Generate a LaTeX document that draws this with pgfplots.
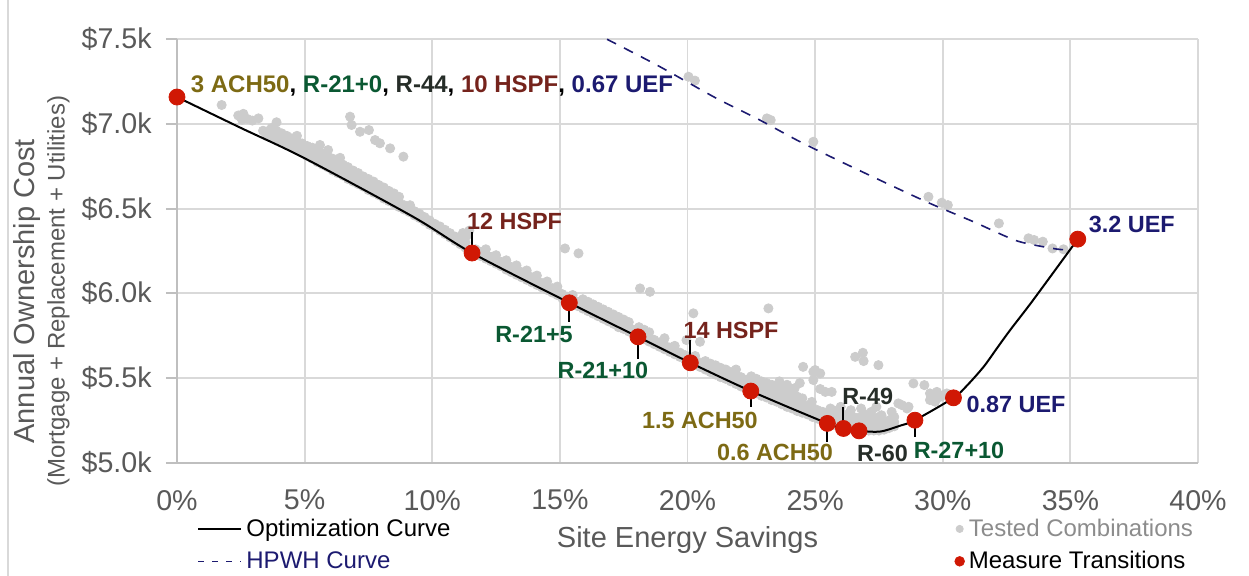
\documentclass[border=0pt]{standalone}
\usepackage{pgfplots}
\pgfplotsset{compat=1.18}
\usepackage{fontspec}
\setmainfont{Liberation Sans}
\definecolor{ptgray}{RGB}{204,204,204}
\definecolor{ptred}{RGB}{208,24,4}
\definecolor{colUEF}{RGB}{28,26,112}
\definecolor{colACH}{RGB}{125,106,20}
\definecolor{colR}{RGB}{10,88,50}
\definecolor{colRd}{RGB}{38,45,40}
\definecolor{colHSPF}{RGB}{117,35,28}
\definecolor{gridgray}{RGB}{217,217,217}
\definecolor{txtgray}{RGB}{89,89,89}
\definecolor{axgray}{RGB}{191,191,191}
\definecolor{leggray}{RGB}{140,140,140}
\newcommand{\lblfont}{\bfseries\fontsize{11.7}{14}\selectfont}

\pgfplotstableread{
x y
1.75 7.112
2.40 7.050
2.50 7.040
2.60 7.060
2.75 7.030
2.95 7.020
3.19 7.033
2.55 7.025
3.37 6.960
3.90 7.010
3.5 6.930
3.5 6.955
3.7 6.920
3.7 6.950
3.7 6.975
3.9 6.905
3.9 6.930
3.9 6.960
4.1 6.890
4.1 6.915
4.1 6.945
4.3 6.875
4.3 6.900
4.3 6.930
4.5 6.860
4.5 6.885
4.5 6.915
4.7 6.845
4.7 6.870
4.7 6.900
4.7 6.930
4.9 6.830
4.9 6.855
4.9 6.885
5.1 6.810
5.1 6.840
5.1 6.870
5.3 6.795
5.3 6.825
5.3 6.860
5.5 6.775
5.5 6.810
5.5 6.845
5.6 6.876
5.7 6.760
5.7 6.790
5.7 6.825
5.9 6.745
5.9 6.775
5.9 6.810
5.92 6.846
6.1 6.725
6.1 6.760
6.1 6.795
6.3 6.710
6.3 6.745
6.3 6.780
6.39 6.800
6.5 6.695
6.5 6.725
6.5 6.760
6.7 6.675
6.7 6.710
6.7 6.745
6.9 6.660
6.9 6.690
6.9 6.725
7.1 6.645
7.1 6.675
7.1 6.710
7.3 6.630
7.3 6.660
7.3 6.690
7.5 6.610
7.5 6.645
7.5 6.675
7.7 6.595
7.7 6.625
7.7 6.660
7.9 6.580
7.9 6.610
7.9 6.640
8.1 6.560
8.1 6.590
8.1 6.625
8.3 6.545
8.3 6.575
8.3 6.605
8.5 6.530
8.5 6.555
8.5 6.590
8.7 6.510
8.7 6.540
8.7 6.570
8.9 6.495
8.9 6.520
9.13 6.520
9.1 6.480
9.1 6.505
9.3 6.460
9.3 6.485
9.5 6.445
9.5 6.470
9.7 6.425
9.7 6.450
9.9 6.405
9.9 6.430
10.1 6.390
10.1 6.410
10.3 6.370
10.3 6.395
10.5 6.350
10.5 6.375
10.7 6.330
10.7 6.355
10.9 6.310
10.9 6.335
11.1 6.290
11.1 6.315
11.2 6.356
11.3 6.270
11.3 6.300
11.35 6.340
11.45 6.370
6.78 7.043
6.84 6.994
7.17 6.954
7.52 6.964
7.76 6.905
7.95 6.886
8.35 6.856
8.87 6.807
11.7 6.235
11.7 6.260
11.9 6.220
11.9 6.245
12.1 6.205
12.1 6.230
12.1 6.260
12.3 6.190
12.3 6.215
12.5 6.175
12.5 6.200
12.5 6.225
12.7 6.160
12.7 6.185
12.9 6.140
12.9 6.170
12.9 6.195
13.1 6.125
13.1 6.155
13.3 6.110
13.3 6.140
13.3 6.165
13.5 6.095
13.5 6.125
13.7 6.080
13.7 6.110
13.7 6.135
13.9 6.065
13.9 6.095
14.1 6.050
14.1 6.080
14.1 6.105
14.3 6.035
14.3 6.060
14.5 6.020
14.5 6.045
14.5 6.070
14.7 6.005
14.7 6.030
14.9 5.990
14.9 6.015
14.9 6.040
15.1 5.970
15.1 5.995
15.3 5.955
15.3 5.980
15.5 5.940
15.5 5.965
15.5 5.990
15.7 5.925
15.7 5.950
15.9 5.910
15.9 5.935
15.9 5.965
16.1 5.895
16.1 5.920
16.1 5.950
16.3 5.880
16.3 5.905
16.3 5.935
16.5 5.865
16.5 5.890
16.5 5.920
16.7 5.850
16.7 5.875
16.7 5.905
16.9 5.835
16.9 5.860
16.9 5.890
17.1 5.820
17.1 5.845
17.1 5.875
17.3 5.800
17.3 5.830
17.3 5.860
17.5 5.790
17.5 5.815
17.5 5.845
17.7 5.775
17.7 5.800
17.7 5.830
17.9 5.760
17.9 5.785
18.1 5.745
18.1 5.770
18.1 5.800
18.3 5.730
18.3 5.755
18.3 5.785
18.5 5.715
18.5 5.740
18.5 5.770
18.7 5.700
18.7 5.725
18.9 5.685
18.9 5.710
19.1 5.670
19.1 5.695
19.1 5.735
19.3 5.655
19.3 5.680
19.5 5.640
19.5 5.665
19.5 5.690
19.7 5.625
19.7 5.650
19.9 5.610
19.9 5.635
19.96 5.724
15.20 6.265
15.73 6.236
18.14 6.029
18.53 6.009
20.23 5.882
23.17 5.911
20.49 5.714
20.1 5.595
20.1 5.620
20.3 5.580
20.3 5.605
20.3 5.630
20.5 5.565
20.5 5.590
20.7 5.550
20.7 5.575
20.7 5.600
20.9 5.535
20.9 5.560
20.9 5.585
21.1 5.520
21.1 5.545
21.1 5.575
21.3 5.505
21.3 5.530
21.3 5.560
21.5 5.495
21.5 5.520
21.5 5.550
21.7 5.480
21.7 5.505
21.7 5.535
21.9 5.465
21.9 5.490
21.9 5.520
21.9 5.550
22.1 5.450
22.1 5.475
22.1 5.505
22.3 5.435
22.3 5.460
22.3 5.490
22.5 5.425
22.5 5.450
22.5 5.475
22.5 5.510
22.7 5.410
22.7 5.435
22.7 5.465
22.7 5.495
22.9 5.395
22.9 5.420
22.9 5.450
22.9 5.480
23.1 5.385
23.1 5.410
23.1 5.440
23.1 5.470
23.3 5.370
23.3 5.395
23.3 5.425
23.3 5.460
23.5 5.360
23.5 5.385
23.5 5.410
23.5 5.445
23.6 5.480
23.7 5.345
23.7 5.370
23.7 5.400
23.7 5.440
23.9 5.330
23.9 5.355
23.9 5.385
23.9 5.420
23.9 5.460
24.1 5.320
24.1 5.345
24.1 5.370
24.1 5.400
24.2 5.440
24.3 5.305
24.3 5.330
24.3 5.360
24.3 5.390
24.4 5.470
24.5 5.295
24.5 5.320
24.5 5.350
24.5 5.380
24.7 5.285
24.7 5.310
24.7 5.335
24.9 5.270
24.9 5.295
24.9 5.325
24.87 5.359
25.1 5.260
25.1 5.285
25.1 5.310
25.3 5.245
25.3 5.270
25.3 5.300
25.4 5.418
25.5 5.235
25.5 5.260
25.5 5.290
25.7 5.225
25.7 5.250
25.7 5.275
25.7 5.310
25.9 5.215
25.9 5.240
25.9 5.265
25.9 5.300
26.1 5.205
26.1 5.230
26.1 5.255
26.1 5.285
26.3 5.200
26.3 5.220
26.3 5.245
26.3 5.275
26.5 5.195
26.5 5.215
26.5 5.240
26.5 5.270
26.7 5.190
26.7 5.210
26.7 5.235
26.7 5.265
26.9 5.190
26.9 5.205
26.9 5.230
26.9 5.260
26.9 5.290
27.1 5.190
27.1 5.205
27.1 5.230
27.1 5.255
27.3 5.190
27.3 5.210
27.3 5.235
27.3 5.260
27.5 5.190
27.5 5.210
27.5 5.240
27.5 5.270
27.7 5.195
27.7 5.220
27.7 5.245
27.9 5.205
27.9 5.225
27.9 5.250
28.1 5.215
28.1 5.240
28.1 5.270
25.6 5.320
26.0 5.330
26.4 5.310
26.8 5.320
27.2 5.300
27.6 5.280
28.0 5.300
27.4 5.330
28.6 5.320
25.65 5.418
25.2 5.435
24.53 5.566
24.93 5.537
25.20 5.527
24.93 5.488
25.00 5.547
26.57 5.625
26.87 5.649
26.90 5.600
27.48 5.576
28.26 5.350
28.40 5.340
28.66 5.330
28.85 5.468
29.28 5.458
29.50 5.409
29.62 5.381
29.77 5.418
29.90 5.389
29.50 5.370
29.70 5.360
30.03 5.399
30.16 5.409
20.04 7.279
20.29 7.256
23.11 7.033
23.26 7.023
24.93 6.895
29.44 6.570
29.96 6.535
30.20 6.521
32.20 6.413
33.36 6.325
33.58 6.315
33.92 6.305
34.30 6.265
34.73 6.260
}\tested

\pgfplotstableread{
x y
0     7.159
2.47  6.979
5.02  6.796
9.25  6.452
11.56 6.238
15.37 5.944
18.06 5.743
20.11 5.590
22.48 5.423
25.48 5.232
26.11 5.202
26.72 5.188
27.55 5.184
28.33 5.2185
28.91 5.251
30.42 5.383
30.94 5.454
31.60 5.566
32.12 5.675
32.64 5.783
33.54 5.960
35.29 6.320
}\optcurve

\pgfplotstableread{
x y
16.85 7.500
18.80 7.348
21.14 7.151
22.71 7.033
24.41 6.895
26.10 6.771
27.81 6.649
29.50 6.531
31.20 6.423
32.92 6.309
34.48 6.261
35.00 6.258
}\hpwh

\pgfplotstableread{
x y
0     7.159
11.56 6.238
15.37 5.944
18.06 5.743
20.11 5.590
22.48 5.423
25.48 5.232
26.11 5.202
26.72 5.188
28.91 5.251
30.42 5.383
35.29 6.320
}\transitions

\begin{document}
\begin{tikzpicture}
\useasboundingbox (-88.5pt,-56.65pt) rectangle (536pt,231.35pt);
\draw[gridgray, line width=0.75pt] (-84.5pt,-56.65pt) -- (-84.5pt,231.35pt);
\begin{axis}[
  at={(0pt,0pt)}, anchor=south west,
  scale only axis, width=510.5pt, height=211.7pt,
  xmin=0, xmax=40, ymin=5, ymax=7.5,
  clip=false, clip marker paths=true,
  axis x line*=bottom, axis y line*=left,
  axis line style={axgray, line width=0.9pt, -},
  grid=major, grid style={gridgray, line width=0.9pt},
  xtick={0,5,...,40},
  xticklabels={0\%,5\%,10\%,15\%,20\%,25\%,30\%,35\%,40\%},
  ytick={5,5.5,6,6.5,7,7.5},
  yticklabels={\$5.0k,\$5.5k,\$6.0k,\$6.5k,\$7.0k,\$7.5k},
  tick label style={font=\fontsize{14.3}{17}\selectfont, text=txtgray},
  tick align=outside, major tick length=5.5pt,
  xtick style={draw=none},
  ytick style={axgray, line width=0.9pt},
  yticklabel style={inner sep=0pt, xshift=-7pt},
  xticklabel style={inner sep=0pt, yshift=-8pt},
  every axis x label/.style={at={(axis description cs:0.5,-0.183)}, anchor=center},
  xlabel style={font=\fontsize{14.5}{17}\selectfont, text=txtgray},
  xlabel={Site Energy Savings},
  every axis y label/.style={at={(axis description cs:-0.1327,0.405)}, rotate=90, anchor=center},
  ylabel style={align=center, font=\fontsize{14.5}{15}\selectfont, text=txtgray},
  ylabel={Annual Ownership Cost\\{\fontsize{12}{15}\selectfont(Mortgage + Replacement + Utilities)}},
  legend columns=2,
  legend cell align=left,
  legend style={at={(axis description cs:0.0196,-0.122)}, anchor=north west,
    draw=none, fill=none, inner sep=0pt,
    font=\fontsize{12}{14}\selectfont,
    /tikz/every even column/.append style={column sep=250pt},
    row sep=2pt},
]
\addplot[only marks, mark=*, mark size=2.3pt, color=ptgray, mark options={draw=ptgray, fill=ptgray}, forget plot] table[x=x, y=y] {\tested};
\addplot[colUEF, line width=0.8pt, dash pattern=on 5pt off 4.5pt, smooth, tension=0.4, forget plot] table[x=x, y=y] {\hpwh};
\addplot[black, line width=1pt, smooth, tension=0.5, forget plot] table[x=x, y=y] {\optcurve};
\addplot[black, line width=1pt, unbounded coords=jump, forget plot] coordinates {
  (11.56,6.238) (11.56,6.364) (nan,nan)
  (15.37,5.944) (15.37,5.832) (nan,nan)
  (18.06,5.743) (18.06,5.612) (nan,nan)
  (20.11,5.590) (20.11,5.724) (nan,nan)
  (22.48,5.423) (22.48,5.330) (nan,nan)
  (25.48,5.232) (25.48,5.123) (nan,nan)
  (26.11,5.202) (26.11,5.330) (nan,nan)
  (26.72,5.188) (26.72,5.143) (nan,nan)
  (28.91,5.251) (28.91,5.153)
};
\addplot[only marks, mark=*, mark size=4pt, color=ptred, mark options={draw=ptred, fill=ptred}, forget plot] table[x=x, y=y] {\transitions};

\addlegendimage{legend image code/.code={\draw[black, line width=1pt] (0pt,0pt) -- (21.5pt,0pt);}}
\addlegendentry{Optimization Curve}
\addlegendimage{legend image code/.code={\fill[ptgray] (2pt,0pt) circle (1.8pt);}}
\addlegendentry{\textcolor{leggray}{Tested Combinations}}
\addlegendimage{legend image code/.code={\draw[colUEF, line width=0.8pt, dash pattern=on 3pt off 4pt] (0pt,0pt) -- (21.5pt,0pt);}}
\addlegendentry{\textcolor{colUEF}{HPWH Curve}}
\addlegendimage{legend image code/.code={\fill[ptred] (2pt,0pt) circle (2.4pt);}}
\addlegendentry{Measure Transitions}

\node[anchor=base west, inner sep=0pt, font=\bfseries\fontsize{12}{14}\selectfont] at (axis cs:0.53,7.187)
  {\textcolor{colACH}{3 ACH50}, \textcolor{colR}{R-21+0}, \textcolor{colRd}{R-44}, \textcolor{colHSPF}{10 HSPF}, \textcolor{colUEF}{0.67 UEF}};
\node[anchor=base west, inner sep=0pt, font=\lblfont, text=colHSPF] at (axis cs:11.35,6.374) {12 HSPF};
\node[anchor=base east, inner sep=0pt, font=\lblfont, text=colR] at (axis cs:15.52,5.712) {R-21+5};
\node[anchor=base east, inner sep=0pt, font=\lblfont, text=colR] at (axis cs:18.47,5.498) {R-21+10};
\node[anchor=base west, inner sep=0pt, font=\lblfont, text=colHSPF] at (axis cs:19.83,5.734) {14 HSPF};
\node[anchor=base east, inner sep=0pt, font=\lblfont, text=colACH] at (axis cs:22.77,5.204) {1.5 ACH50};
\node[anchor=base east, inner sep=0pt, font=\lblfont, text=colACH] at (axis cs:25.71,5.011) {0.6 ACH50};
\node[anchor=base west, inner sep=0pt, font=\lblfont, text=colRd] at (axis cs:26.05,5.341) {R-49};
\node[anchor=base west, inner sep=0pt, font=\lblfont, text=colRd] at (axis cs:26.63,5.005) {R-60};
\node[anchor=base west, inner sep=0pt, font=\lblfont, text=colR] at (axis cs:28.85,5.027) {R-27+10};
\node[anchor=base west, inner sep=0pt, font=\lblfont, text=colUEF] at (axis cs:30.92,5.299) {0.87 UEF};
\node[anchor=base west, inner sep=0pt, font=\lblfont, text=colUEF] at (axis cs:35.71,6.362) {3.2 UEF};
\end{axis}
\end{tikzpicture}
\end{document}
